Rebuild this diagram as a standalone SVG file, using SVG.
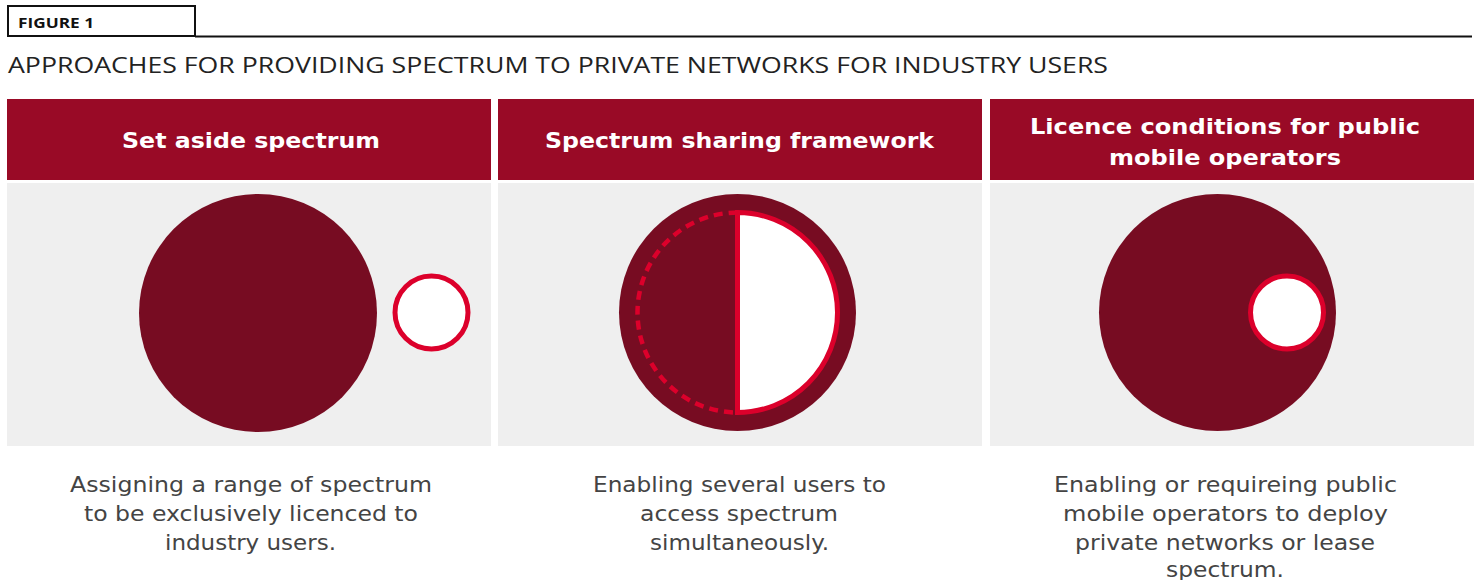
<svg xmlns="http://www.w3.org/2000/svg" width="1480" height="580" viewBox="0 0 1480 580">
<style>
.hdr{fill:#990a26}
.pnl{fill:#efefef}
.big{fill:#770c22}
.ring{fill:#fff;stroke:#dc002b;stroke-width:5}
.ht{font-family:"DejaVu Sans",sans-serif;font-weight:700;font-size:22px;fill:#fff;text-anchor:middle}
.desc{font-family:"DejaVu Sans",sans-serif;font-size:21px;fill:#444;text-anchor:middle}
</style>
<rect width="1480" height="580" fill="#fff"/>
<g id="figure-label">
<rect x="8" y="6" width="187" height="30" fill="#fff" stroke="#111" stroke-width="2"/>
<line x1="195" y1="36.5" x2="1472" y2="36.5" stroke="#111" stroke-width="2"/>
<text x="18" y="28" font-family="Open Sans, sans-serif" font-weight="700" font-size="14" fill="#111" textLength="76" lengthAdjust="spacingAndGlyphs">FIGURE 1</text>
</g>
<text id="title" x="8" y="73" font-family="Open Sans, sans-serif" font-size="22" fill="#222" textLength="1100" lengthAdjust="spacingAndGlyphs">APPROACHES FOR PROVIDING SPECTRUM TO PRIVATE NETWORKS FOR INDUSTRY USERS</text>

<g id="col1">
<rect class="hdr" x="7" y="99" width="484" height="81"/>
<text class="ht" x="251" y="148" textLength="258" lengthAdjust="spacingAndGlyphs">Set aside spectrum</text>
<rect class="pnl" x="7" y="183" width="484" height="263"/>
<circle class="big" cx="258" cy="313" r="119"/>
<circle class="ring" cx="431.5" cy="312.5" r="36.5"/>
<text class="desc" x="251" y="492" textLength="362" lengthAdjust="spacingAndGlyphs">Assigning a range of spectrum</text>
<text class="desc" x="251" y="521" textLength="334" lengthAdjust="spacingAndGlyphs">to be exclusively licenced to</text>
<text class="desc" x="250.5" y="550" textLength="171" lengthAdjust="spacingAndGlyphs">industry users.</text>
</g>

<g id="col2">
<rect class="hdr" x="498" y="99" width="484" height="81"/>
<text class="ht" x="739.5" y="148" textLength="389" lengthAdjust="spacingAndGlyphs">Spectrum sharing framework</text>
<rect class="pnl" x="498" y="183" width="484" height="263"/>
<circle class="big" cx="737.5" cy="312.5" r="118.5"/>
<path d="M737.5 212.5 A100 100 0 0 1 737.5 412.5 Z" fill="#fff" stroke="#dc002b" stroke-width="5"/>
<path d="M737.5 212.5 A100 100 0 0 0 737.5 412.5" fill="none" stroke="#dc002b" stroke-width="4.5" stroke-dasharray="9 6"/>
<text class="desc" x="739.5" y="492" textLength="293" lengthAdjust="spacingAndGlyphs">Enabling several users to</text>
<text class="desc" x="739" y="521" textLength="198" lengthAdjust="spacingAndGlyphs">access spectrum</text>
<text class="desc" x="739.5" y="550" textLength="179" lengthAdjust="spacingAndGlyphs">simultaneously.</text>
</g>

<g id="col3">
<rect class="hdr" x="990" y="99" width="484" height="81"/>
<text class="ht" x="1225" y="134" textLength="390" lengthAdjust="spacingAndGlyphs">Licence conditions for public</text>
<text class="ht" x="1225" y="165" textLength="232" lengthAdjust="spacingAndGlyphs">mobile operators</text>
<rect class="pnl" x="990" y="183" width="484" height="263"/>
<circle class="big" cx="1217.5" cy="312.5" r="118.5"/>
<circle class="ring" cx="1287" cy="312.5" r="36.5"/>
<text class="desc" x="1225.5" y="492" textLength="343" lengthAdjust="spacingAndGlyphs">Enabling or requireing public</text>
<text class="desc" x="1225.5" y="521" textLength="325" lengthAdjust="spacingAndGlyphs">mobile operators to deploy</text>
<text class="desc" x="1225" y="550" textLength="300" lengthAdjust="spacingAndGlyphs">private networks or lease</text>
<text class="desc" x="1225" y="577" textLength="118" lengthAdjust="spacingAndGlyphs">spectrum.</text>
</g>
</svg>
